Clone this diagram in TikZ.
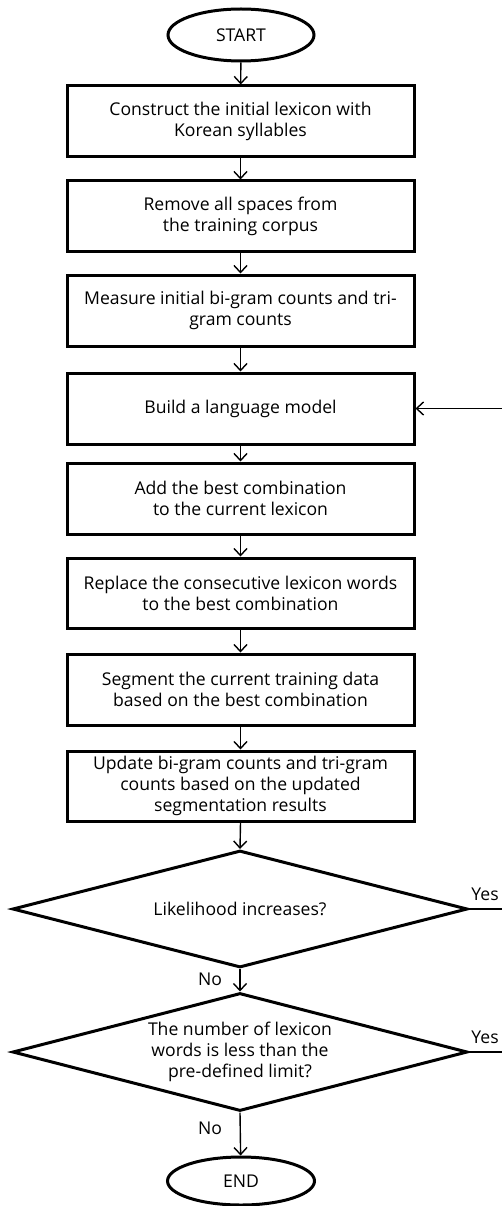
\documentclass[tikz,border=0pt]{standalone}
\usepackage{fontspec}
\setmainfont{Open Sans}
\usetikzlibrary{shapes.geometric,arrows.meta}
\begin{document}
\begin{tikzpicture}[x=1pt,y=-1pt,
  every node/.style={font=\fontsize{17.6}{21}\selectfont},
  stepbox/.style={draw,line width=3pt,rectangle,minimum width=347pt,minimum height=71pt,align=center,inner sep=0pt},
  term/.style={draw,line width=3pt,ellipse,minimum width=146pt,minimum height=52pt,inner sep=0pt},
  decide/.style={draw,line width=3pt,diamond,aspect=3.9,minimum width=455pt,minimum height=117pt,inner sep=0pt,align=center},
  flow/.style={line width=1.4pt,-{Straight Barb[length=7pt,width=13pt,line width=1.4pt]}},
  plain/.style={line width=1.4pt},
  lbl/.style={inner sep=0pt}]
\useasboundingbox (0,0) rectangle (502,1206);
\node[term] (start) at (241,35) {START};
\node[stepbox] (b1) at (240.5,121.5) {Construct the initial lexicon with\\Korean syllables};
\node[stepbox,minimum height=70pt] (b2) at (240.5,216) {Remove all spaces from\\the training corpus};
\node[stepbox] (b3) at (240.5,310.5) {Measure initial bi-gram counts and tri-\\gram counts};
\node[stepbox] (b4) at (240.5,408.5) {Build a language model};
\node[stepbox] (b5) at (240.5,498.5) {Add the best combination\\to the current lexicon};
\node[stepbox,minimum height=70pt] (b6) at (240.5,593) {Replace the consecutive lexicon words\\to the best combination};
\node[stepbox] (b7) at (240.5,689.5) {Segment the current training data\\based on the best combination};
\node[stepbox,minimum height=70pt] (b8) at (240.5,786) {Update bi-gram counts and tri-gram\\counts based on the updated\\segmentation results};
\node[decide] (d1) at (240,909) {Likelihood increases?};
\node[decide,minimum height=118pt] (d2) at (240,1052) {The number of lexicon\\words is less than the\\pre-defined limit?};
\node[term,minimum width=147pt,minimum height=48pt] (end) at (241,1181) {END};
\coordinate (fb) at (502,408.5);
\coordinate (y1) at (502,909);
\coordinate (y2) at (502,1052);
\draw[flow] (start) -- (b1);
\draw[flow] (b1) -- (b2);
\draw[flow] (b2) -- (b3);
\draw[flow] (b3) -- (b4);
\draw[flow] (b4) -- (b5);
\draw[flow] (b5) -- (b6);
\draw[flow] (b6) -- (b7);
\draw[flow] (b7) -- (b8);
\draw[flow] (b8.south) -- (d1.north);
\draw[flow] (d1.south) -- (d2.north);
\draw[flow] (d2.south) -- (end);
\draw[flow] (fb) -- (b4.east);
\draw[plain] (d1.east) -- (y1);
\draw[plain] (d2.east) -- (y2);
\node[lbl] (yes1) at (485,894) {Yes};
\node[lbl] (yes2) at (485,1037) {Yes};
\node[lbl] (no1) at (210,979) {No};
\node[lbl] (no2) at (210,1128) {No};
\end{tikzpicture}
\end{document}
